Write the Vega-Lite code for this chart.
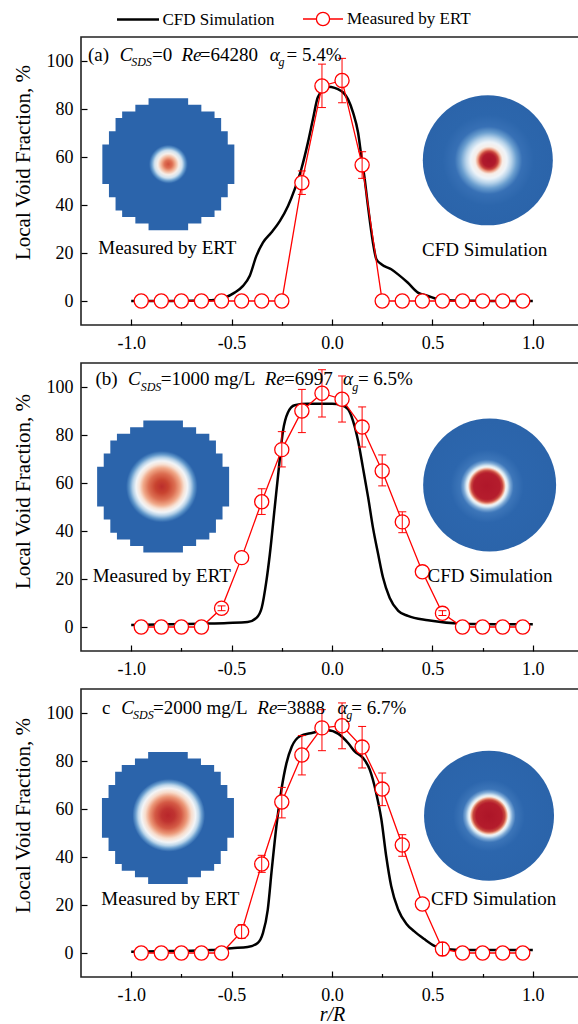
{
  "$schema": "https://vega.github.io/schema/vega-lite/v6.json",
  "padding": {"left": 11, "top": -3, "right": 0, "bottom": 0},
  "bounds": "flush",
  "spacing": 38,
  "config": {
    "font": "Liberation Serif",
    "view": {"stroke": "#222", "strokeWidth": 1.6},
    "axis": {"domain": false, "grid": false, "labelFontSize": 18, "labelColor": "black", "tickColor": "black", "tickWidth": 1.2, "titleColor": "black", "titleFontWeight": "normal", "labelFont": "Liberation Serif", "titleFont": "Liberation Serif"},
    "legend": {"labelFont": "Liberation Serif", "labelFontSize": 17, "labelColor": "black"}
  },
  "datasets": {
    "cfdA": [{"r":-1,"v":0},{"r":-0.8,"v":0},{"r":-0.6,"v":0.3},{"r":-0.534,"v":1.4},{"r":-0.485,"v":3.5},{"r":-0.443,"v":6.3},{"r":-0.41,"v":10.4},{"r":-0.377,"v":18.7},{"r":-0.344,"v":24.3},{"r":-0.302,"v":28.5},{"r":-0.26,"v":33.3},{"r":-0.219,"v":39.6},{"r":-0.186,"v":46.5},{"r":-0.153,"v":54.9},{"r":-0.12,"v":66},{"r":-0.095,"v":75.7},{"r":-0.07,"v":85},{"r":-0.02,"v":89.3},{"r":0.046,"v":87.5},{"r":0.08,"v":84},{"r":0.105,"v":78.5},{"r":0.13,"v":70.1},{"r":0.146,"v":60.4},{"r":0.163,"v":50.7},{"r":0.179,"v":39.6},{"r":0.204,"v":24.3},{"r":0.221,"v":17.4},{"r":0.246,"v":15.3},{"r":0.295,"v":13.2},{"r":0.329,"v":11.1},{"r":0.378,"v":7.6},{"r":0.428,"v":3.5},{"r":0.478,"v":2.1},{"r":0.528,"v":0.7},{"r":0.6,"v":0.2},{"r":0.8,"v":0},{"r":1,"v":0}],
    "ertA": [{"r":-0.95,"v":0},{"r":-0.85,"v":0},{"r":-0.75,"v":0},{"r":-0.65,"v":0},{"r":-0.55,"v":0},{"r":-0.45,"v":0},{"r":-0.35,"v":0},{"r":-0.25,"v":0},{"r":-0.15,"v":49.3,"lo":44.4,"hi":54.2},{"r":-0.05,"v":89.6,"lo":80.6,"hi":98.7},{"r":0.05,"v":91.9,"lo":82.6,"hi":101.1},{"r":0.15,"v":56.7,"lo":51.1,"hi":62.2},{"r":0.25,"v":0},{"r":0.35,"v":0},{"r":0.45,"v":0},{"r":0.55,"v":0},{"r":0.65,"v":0},{"r":0.75,"v":0},{"r":0.85,"v":0},{"r":0.95,"v":0}],
    "cfdB": [{"r":-1,"v":0.8},{"r":-0.8,"v":1.1},{"r":-0.65,"v":1.4},{"r":-0.52,"v":1.7},{"r":-0.42,"v":2.1},{"r":-0.375,"v":3.9},{"r":-0.35,"v":8},{"r":-0.327,"v":19},{"r":-0.31,"v":30},{"r":-0.285,"v":50},{"r":-0.265,"v":66},{"r":-0.244,"v":81.7},{"r":-0.22,"v":89.3},{"r":-0.186,"v":92.4},{"r":-0.12,"v":93},{"r":0,"v":93},{"r":0.046,"v":92.5},{"r":0.08,"v":90.7},{"r":0.105,"v":85.8},{"r":0.13,"v":77.5},{"r":0.154,"v":66.4},{"r":0.18,"v":54},{"r":0.204,"v":41.4},{"r":0.23,"v":30.3},{"r":0.254,"v":20.6},{"r":0.287,"v":12.2},{"r":0.33,"v":6.7},{"r":0.378,"v":4.6},{"r":0.478,"v":2.8},{"r":0.644,"v":1.4},{"r":1,"v":1.1}],
    "ertB": [{"r":-0.95,"v":0},{"r":-0.85,"v":0},{"r":-0.75,"v":0},{"r":-0.65,"v":0},{"r":-0.55,"v":7.8,"lo":6.8,"hi":8.8},{"r":-0.45,"v":28.9},{"r":-0.35,"v":52.2,"lo":46.9,"hi":57.6},{"r":-0.25,"v":73.9,"lo":66.7,"hi":81.4},{"r":-0.15,"v":90,"lo":81,"hi":99},{"r":-0.05,"v":97.4,"lo":87.5,"hi":107.2},{"r":0.05,"v":94.9,"lo":85.4,"hi":104.6},{"r":0.15,"v":83.3,"lo":75,"hi":91.7},{"r":0.25,"v":65,"lo":58.8,"hi":71.7},{"r":0.35,"v":43.8,"lo":39.3,"hi":48},{"r":0.45,"v":23},{"r":0.55,"v":5.7,"lo":4.8,"hi":6.8},{"r":0.65,"v":0},{"r":0.75,"v":0},{"r":0.85,"v":0},{"r":0.95,"v":0}],
    "cfdC": [{"r":-1,"v":0.5},{"r":-0.8,"v":0.8},{"r":-0.6,"v":1.2},{"r":-0.5,"v":2},{"r":-0.42,"v":2.5},{"r":-0.37,"v":4.2},{"r":-0.344,"v":8.3},{"r":-0.32,"v":18},{"r":-0.3,"v":34.7},{"r":-0.277,"v":52.8},{"r":-0.252,"v":68},{"r":-0.227,"v":79},{"r":-0.2,"v":86},{"r":-0.16,"v":90.3},{"r":-0.1,"v":91.7},{"r":-0.02,"v":92.8},{"r":0.03,"v":91.4},{"r":0.08,"v":87.5},{"r":0.113,"v":84},{"r":0.154,"v":81.3},{"r":0.188,"v":76.4},{"r":0.22,"v":66.7},{"r":0.246,"v":55.6},{"r":0.27,"v":40.3},{"r":0.295,"v":27.8},{"r":0.33,"v":18},{"r":0.37,"v":12.2},{"r":0.41,"v":9},{"r":0.46,"v":5.8},{"r":0.51,"v":3},{"r":0.56,"v":1.7},{"r":0.7,"v":1.2},{"r":1,"v":1.2}],
    "ertC": [{"r":-0.95,"v":0},{"r":-0.85,"v":0},{"r":-0.75,"v":0},{"r":-0.65,"v":0},{"r":-0.55,"v":0},{"r":-0.45,"v":8.9,"lo":6.1,"hi":11.8},{"r":-0.35,"v":37.1,"lo":33.6,"hi":40.7},{"r":-0.25,"v":62.9,"lo":56.3,"hi":69},{"r":-0.15,"v":82.5,"lo":74.2,"hi":90.6},{"r":-0.05,"v":93.8,"lo":84.3,"hi":101.4},{"r":0.05,"v":94.7,"lo":85.1,"hi":104.2},{"r":0.15,"v":85.8,"lo":77.1,"hi":94.4},{"r":0.25,"v":68.3,"lo":61.4,"hi":75},{"r":0.35,"v":45,"lo":40.3,"hi":49.3},{"r":0.45,"v":20.4},{"r":0.55,"v":1.7,"lo":-1.1,"hi":4.4},{"r":0.65,"v":0},{"r":0.75,"v":0},{"r":0.85,"v":0},{"r":0.95,"v":0}]
  },
  "vconcat": [
    {
      "width": 502, "height": 288,
      "layer": [
        {
          "data": {"values": [{}]},
          "layer": [
            {"mark": {"type": "point", "shape": "M-0.3,-1H0.3V-0.9H0.5V-0.8H0.7V-0.7H0.8V-0.5H0.9V-0.3H1V0.3H0.9V0.5H0.8V0.7H0.7V0.8H0.5V0.9H0.3V1H-0.3V0.9H-0.5V0.8H-0.7V0.7H-0.8V0.5H-0.9V0.3H-1V-0.3H-0.9V-0.5H-0.8V-0.7H-0.7V-0.8H-0.5V-0.9H-0.3Z", "size": 17424, "filled": true, "opacity": 1, "strokeWidth": 0,
              "fill": {"gradient": "radial", "x1": 0.5, "y1": 0.5, "r1": 0, "x2": 0.5, "y2": 0.5, "r2": 0.5, "stops": [{"offset": 0, "color": "#cf4f3a"}, {"offset": 0.06, "color": "#de6f53"}, {"offset": 0.11, "color": "#f2b497"}, {"offset": 0.16, "color": "#f7efe9"}, {"offset": 0.21, "color": "#cfe2f0"}, {"offset": 0.25, "color": "#6a9fcf"}, {"offset": 0.29, "color": "#2b64ab"}, {"offset": 1, "color": "#2b64ab"}]}},
             "encoding": {
               "x": {"datum": -0.815, "type": "quantitative", "scale": {"domain": [-1.25, 1.25], "nice": false, "zero": false},
                     "axis": {"title": null, "values": [-1,-0.75,-0.5,-0.25,0,0.25,0.5,0.75,1], "labelExpr": "datum.value % 0.5 === 0 ? (datum.value < 0 ? '-' : '') + format(abs(datum.value), '.1f') : ''", "tickSize": {"condition": {"test": "datum.value % 0.5 === 0", "value": -6}, "value": -3.5}, "labelPadding": 15, "labelFlush": false, "labelOverlap": false}},
               "y": {"datum": 57, "type": "quantitative", "scale": {"domain": [-10, 110], "nice": false, "zero": false},
                     "axis": {"title": "Local Void Fraction, %", "values": [0,10,20,30,40,50,60,70,80,90,100], "labelExpr": "datum.value % 20 === 0 ? datum.label : ''", "tickSize": {"condition": {"test": "datum.value % 20 === 0", "value": -6}, "value": -3.5}, "labelPadding": 14, "titleFontSize": 21, "titleX": -57.5, "titleY": 125, "titleAngle": -90, "titleBaseline": "middle", "titleAlign": "center", "labelOverlap": false, "labelFlush": false}}
             }},
            {"mark": {"type": "point", "shape": "circle", "size": 16900, "filled": true, "opacity": 1, "strokeWidth": 0,
              "fill": {"gradient": "radial", "x1": 0.51, "y1": 0.5, "r1": 0, "x2": 0.5, "y2": 0.5, "r2": 0.5, "stops": [{"offset": 0, "color": "#a8132a"}, {"offset": 0.1, "color": "#b01a2c"}, {"offset": 0.14, "color": "#c9443d"}, {"offset": 0.17, "color": "#ec9c81"}, {"offset": 0.21, "color": "#f8ede6"}, {"offset": 0.28, "color": "#eef4f9"}, {"offset": 0.35, "color": "#b7d3ea"}, {"offset": 0.43, "color": "#6a9ecf"}, {"offset": 0.52, "color": "#3770b5"}, {"offset": 0.7, "color": "#2c66ac"}, {"offset": 1, "color": "#2b64aa"}]}},
             "encoding": {"x": {"datum": 0.776, "type": "quantitative"}, "y": {"datum": 58.6, "type": "quantitative"}}}
          ]
        },
        {"data": {"name": "cfdA"}, "mark": {"type": "line", "interpolate": "monotone", "strokeWidth": 2.5},
         "encoding": {"x": {"field": "r", "type": "quantitative"}, "y": {"field": "v", "type": "quantitative"},
           "color": {"datum": "CFD Simulation", "type": "nominal", "scale": {"domain": ["CFD Simulation"], "range": ["black"]},
             "legend": {"title": null, "orient": "none", "legendX": 34.5, "legendY": -40, "padding": 0, "symbolSize": 1764, "symbolStrokeWidth": 2.5, "symbolType": "stroke", "labelOffset": 2, "labelFont": "Liberation Serif", "labelFontSize": 17, "labelColor": "black"}}}},
        {"data": {"values": []}, "mark": {"type": "point", "filled": false},
         "encoding": {"shape": {"datum": "Measured by ERT", "type": "nominal", "scale": {"domain": ["Measured by ERT"], "range": ["M-1,0H-0.33M0.33,0H1M0.33,0A0.33,0.33,0,1,1,-0.33,0A0.33,0.33,0,1,1,0.33,0Z"]},
           "legend": {"title": null, "orient": "none", "legendX": 221, "legendY": -39, "padding": 0, "symbolSize": 1600, "symbolStrokeColor": "red", "symbolFillColor": "white", "symbolStrokeWidth": 1.3, "symbolOpacity": 1, "labelOffset": 3, "labelFont": "Liberation Serif", "labelFontSize": 17, "labelColor": "black"}}}},
        {"data": {"name": "ertA"}, "mark": {"type": "line", "strokeWidth": 1.3, "color": "red"},
         "encoding": {"x": {"field": "r", "type": "quantitative"}, "y": {"field": "v", "type": "quantitative"}}},
        {"data": {"name": "ertA"}, "mark": {"type": "point", "shape": "circle", "size": 200, "filled": true, "fill": "white", "stroke": "red", "strokeWidth": 1.3, "opacity": 1},
         "encoding": {"x": {"field": "r", "type": "quantitative"}, "y": {"field": "v", "type": "quantitative"}}},
        {"data": {"name": "ertA"}, "transform": [{"filter": "isValid(datum.lo)"}], "mark": {"type": "rule", "color": "red", "strokeWidth": 1},
         "encoding": {"x": {"field": "r", "type": "quantitative"}, "y": {"field": "lo", "type": "quantitative"}, "y2": {"field": "hi"}}},
        {"data": {"name": "ertA"}, "transform": [{"filter": "isValid(datum.lo)"}], "mark": {"type": "tick", "orient": "horizontal", "size": 8, "thickness": 1, "color": "red", "opacity": 1},
         "encoding": {"x": {"field": "r", "type": "quantitative"}, "y": {"field": "lo", "type": "quantitative"}}},
        {"data": {"name": "ertA"}, "transform": [{"filter": "isValid(datum.lo)"}], "mark": {"type": "tick", "orient": "horizontal", "size": 8, "thickness": 1, "color": "red", "opacity": 1},
         "encoding": {"x": {"field": "r", "type": "quantitative"}, "y": {"field": "hi", "type": "quantitative"}}},
        {
          "data": {"values": [{}]},
          "layer": [
            {"mark": {"type": "text", "text": "Measured by ERT", "align": "center", "baseline": "alphabetic", "fontSize": 19}, "encoding": {"x": {"datum": -0.82, "type": "quantitative"}, "y": {"datum": 19.5, "type": "quantitative"}}},
            {"mark": {"type": "text", "text": "CFD Simulation", "align": "center", "baseline": "alphabetic", "fontSize": 19}, "encoding": {"x": {"datum": 0.76, "type": "quantitative"}, "y": {"datum": 18.8, "type": "quantitative"}}},
            {"mark": {"type": "text", "text": "(a)", "align": "left", "baseline": "alphabetic", "fontSize": 19}, "encoding": {"x": {"datum": -1.215, "type": "quantitative"}, "y": {"datum": 100, "type": "quantitative"}}},
            {"mark": {"type": "text", "text": "C", "align": "left", "baseline": "alphabetic", "fontSize": 19, "fontStyle": "italic"}, "encoding": {"x": {"datum": -1.057, "type": "quantitative"}, "y": {"datum": 100, "type": "quantitative"}}},
            {"mark": {"type": "text", "text": "SDS", "align": "left", "baseline": "alphabetic", "fontSize": 12, "fontStyle": "italic"}, "encoding": {"x": {"datum": -1.0, "type": "quantitative"}, "y": {"datum": 97.9, "type": "quantitative"}}},
            {"mark": {"type": "text", "text": "=0", "align": "left", "baseline": "alphabetic", "fontSize": 19}, "encoding": {"x": {"datum": -0.896, "type": "quantitative"}, "y": {"datum": 100, "type": "quantitative"}}},
            {"mark": {"type": "text", "text": "Re", "align": "left", "baseline": "alphabetic", "fontSize": 19, "fontStyle": "italic"}, "encoding": {"x": {"datum": -0.75, "type": "quantitative"}, "y": {"datum": 100, "type": "quantitative"}}},
            {"mark": {"type": "text", "text": "=64280", "align": "left", "baseline": "alphabetic", "fontSize": 19}, "encoding": {"x": {"datum": -0.659, "type": "quantitative"}, "y": {"datum": 100, "type": "quantitative"}}},
            {"mark": {"type": "text", "text": "α", "align": "left", "baseline": "alphabetic", "fontSize": 19, "fontStyle": "italic"}, "encoding": {"x": {"datum": -0.31, "type": "quantitative"}, "y": {"datum": 100, "type": "quantitative"}}},
            {"mark": {"type": "text", "text": "g", "align": "left", "baseline": "alphabetic", "fontSize": 12, "fontStyle": "italic"}, "encoding": {"x": {"datum": -0.266, "type": "quantitative"}, "y": {"datum": 97.9, "type": "quantitative"}}},
            {"mark": {"type": "text", "text": "= 5.4%", "align": "left", "baseline": "alphabetic", "fontSize": 19}, "encoding": {"x": {"datum": -0.227, "type": "quantitative"}, "y": {"datum": 100, "type": "quantitative"}}}
          ]
        }
      ]
    },
    {
      "width": 502, "height": 288,
      "layer": [
        {
          "data": {"values": [{}]},
          "layer": [
            {"mark": {"type": "point", "shape": "M-0.3,-1H0.3V-0.9H0.5V-0.8H0.7V-0.7H0.8V-0.5H0.9V-0.3H1V0.3H0.9V0.5H0.8V0.7H0.7V0.8H0.5V0.9H0.3V1H-0.3V0.9H-0.5V0.8H-0.7V0.7H-0.8V0.5H-0.9V0.3H-1V-0.3H-0.9V-0.5H-0.8V-0.7H-0.7V-0.8H-0.5V-0.9H-0.3Z", "size": 17424, "filled": true, "opacity": 1, "strokeWidth": 0,
              "fill": {"gradient": "radial", "x1": 0.49, "y1": 0.5, "r1": 0, "x2": 0.49, "y2": 0.5, "r2": 0.5, "stops": [{"offset": 0, "color": "#bb2d2c"}, {"offset": 0.1, "color": "#c8432f"}, {"offset": 0.2, "color": "#dc6f52"}, {"offset": 0.28, "color": "#f0a888"}, {"offset": 0.34, "color": "#f8e3d6"}, {"offset": 0.39, "color": "#f2f5f8"}, {"offset": 0.44, "color": "#b5d1e8"}, {"offset": 0.49, "color": "#5e95c9"}, {"offset": 0.54, "color": "#2b64ab"}, {"offset": 1, "color": "#2b64ab"}]}},
             "encoding": {
               "x": {"datum": -0.841, "type": "quantitative", "scale": {"domain": [-1.25, 1.25], "nice": false, "zero": false},
                     "axis": {"title": null, "values": [-1,-0.75,-0.5,-0.25,0,0.25,0.5,0.75,1], "labelExpr": "datum.value % 0.5 === 0 ? (datum.value < 0 ? '-' : '') + format(abs(datum.value), '.1f') : ''", "tickSize": {"condition": {"test": "datum.value % 0.5 === 0", "value": -6}, "value": -3.5}, "labelPadding": 15, "labelFlush": false, "labelOverlap": false}},
               "y": {"datum": 58.5, "type": "quantitative", "scale": {"domain": [-10, 110], "nice": false, "zero": false},
                     "axis": {"title": "Local Void Fraction, %", "values": [0,10,20,30,40,50,60,70,80,90,100], "labelExpr": "datum.value % 20 === 0 ? datum.label : ''", "tickSize": {"condition": {"test": "datum.value % 20 === 0", "value": -6}, "value": -3.5}, "labelPadding": 14, "titleFontSize": 21, "titleX": -57.5, "titleY": 128, "titleAngle": -90, "titleBaseline": "middle", "titleAlign": "center", "labelOverlap": false, "labelFlush": false}}
             }},
            {"mark": {"type": "point", "shape": "circle", "size": 17689, "filled": true, "opacity": 1, "strokeWidth": 0,
              "fill": {"gradient": "radial", "x1": 0.48, "y1": 0.51, "r1": 0, "x2": 0.48, "y2": 0.51, "r2": 0.5, "stops": [{"offset": 0, "color": "#b0172a"}, {"offset": 0.2, "color": "#b51d2d"}, {"offset": 0.235, "color": "#c94840"}, {"offset": 0.26, "color": "#ee9f85"}, {"offset": 0.285, "color": "#f7f5f3"}, {"offset": 0.31, "color": "#d9e9f3"}, {"offset": 0.35, "color": "#7eaad6"}, {"offset": 0.4, "color": "#3d76b9"}, {"offset": 0.55, "color": "#2c66ad"}, {"offset": 1, "color": "#2b64aa"}]}},
             "encoding": {"x": {"datum": 0.785, "type": "quantitative"}, "y": {"datum": 59.2, "type": "quantitative"}}}
          ]
        },
        {"data": {"name": "cfdB"}, "mark": {"type": "line", "interpolate": "monotone", "strokeWidth": 2.5, "color": "black"},
         "encoding": {"x": {"field": "r", "type": "quantitative"}, "y": {"field": "v", "type": "quantitative"}}},
        {"data": {"name": "ertB"}, "mark": {"type": "line", "strokeWidth": 1.3, "color": "red"},
         "encoding": {"x": {"field": "r", "type": "quantitative"}, "y": {"field": "v", "type": "quantitative"}}},
        {"data": {"name": "ertB"}, "mark": {"type": "point", "shape": "circle", "size": 200, "filled": true, "fill": "white", "stroke": "red", "strokeWidth": 1.3, "opacity": 1},
         "encoding": {"x": {"field": "r", "type": "quantitative"}, "y": {"field": "v", "type": "quantitative"}}},
        {"data": {"name": "ertB"}, "transform": [{"filter": "isValid(datum.lo)"}], "mark": {"type": "rule", "color": "red", "strokeWidth": 1},
         "encoding": {"x": {"field": "r", "type": "quantitative"}, "y": {"field": "lo", "type": "quantitative"}, "y2": {"field": "hi"}}},
        {"data": {"name": "ertB"}, "transform": [{"filter": "isValid(datum.lo)"}], "mark": {"type": "tick", "orient": "horizontal", "size": 8, "thickness": 1, "color": "red", "opacity": 1},
         "encoding": {"x": {"field": "r", "type": "quantitative"}, "y": {"field": "lo", "type": "quantitative"}}},
        {"data": {"name": "ertB"}, "transform": [{"filter": "isValid(datum.lo)"}], "mark": {"type": "tick", "orient": "horizontal", "size": 8, "thickness": 1, "color": "red", "opacity": 1},
         "encoding": {"x": {"field": "r", "type": "quantitative"}, "y": {"field": "hi", "type": "quantitative"}}},
        {
          "data": {"values": [{}]},
          "layer": [
            {"mark": {"type": "text", "text": "Measured by ERT", "align": "center", "baseline": "alphabetic", "fontSize": 19}, "encoding": {"x": {"datum": -0.848, "type": "quantitative"}, "y": {"datum": 18.9, "type": "quantitative"}}},
            {"mark": {"type": "text", "text": "CFD Simulation", "align": "center", "baseline": "alphabetic", "fontSize": 19}, "encoding": {"x": {"datum": 0.787, "type": "quantitative"}, "y": {"datum": 18.9, "type": "quantitative"}}},
            {"mark": {"type": "text", "text": "(b)", "align": "left", "baseline": "alphabetic", "fontSize": 19}, "encoding": {"x": {"datum": -1.178, "type": "quantitative"}, "y": {"datum": 100.8, "type": "quantitative"}}},
            {"mark": {"type": "text", "text": "C", "align": "left", "baseline": "alphabetic", "fontSize": 19, "fontStyle": "italic"}, "encoding": {"x": {"datum": -1.016, "type": "quantitative"}, "y": {"datum": 100.8, "type": "quantitative"}}},
            {"mark": {"type": "text", "text": "SDS", "align": "left", "baseline": "alphabetic", "fontSize": 12, "fontStyle": "italic"}, "encoding": {"x": {"datum": -0.953, "type": "quantitative"}, "y": {"datum": 98.5, "type": "quantitative"}}},
            {"mark": {"type": "text", "text": "=1000 mg/L", "align": "left", "baseline": "alphabetic", "fontSize": 19}, "encoding": {"x": {"datum": -0.853, "type": "quantitative"}, "y": {"datum": 100.8, "type": "quantitative"}}},
            {"mark": {"type": "text", "text": "Re", "align": "left", "baseline": "alphabetic", "fontSize": 19, "fontStyle": "italic"}, "encoding": {"x": {"datum": -0.335, "type": "quantitative"}, "y": {"datum": 100.8, "type": "quantitative"}}},
            {"mark": {"type": "text", "text": "=6997", "align": "left", "baseline": "alphabetic", "fontSize": 19}, "encoding": {"x": {"datum": -0.239, "type": "quantitative"}, "y": {"datum": 100.8, "type": "quantitative"}}},
            {"mark": {"type": "text", "text": "α", "align": "left", "baseline": "alphabetic", "fontSize": 19, "fontStyle": "italic"}, "encoding": {"x": {"datum": 0.055, "type": "quantitative"}, "y": {"datum": 100.8, "type": "quantitative"}}},
            {"mark": {"type": "text", "text": "g", "align": "left", "baseline": "alphabetic", "fontSize": 12, "fontStyle": "italic"}, "encoding": {"x": {"datum": 0.101, "type": "quantitative"}, "y": {"datum": 98.5, "type": "quantitative"}}},
            {"mark": {"type": "text", "text": "= 6.5%", "align": "left", "baseline": "alphabetic", "fontSize": 19}, "encoding": {"x": {"datum": 0.129, "type": "quantitative"}, "y": {"datum": 100.8, "type": "quantitative"}}}
          ]
        }
      ]
    },
    {
      "width": 502, "height": 288,
      "layer": [
        {
          "data": {"values": [{}]},
          "layer": [
            {"mark": {"type": "point", "shape": "M-0.3,-1H0.3V-0.9H0.5V-0.8H0.7V-0.7H0.8V-0.5H0.9V-0.3H1V0.3H0.9V0.5H0.8V0.7H0.7V0.8H0.5V0.9H0.3V1H-0.3V0.9H-0.5V0.8H-0.7V0.7H-0.8V0.5H-0.9V0.3H-1V-0.3H-0.9V-0.5H-0.8V-0.7H-0.7V-0.8H-0.5V-0.9H-0.3Z", "size": 17424, "filled": true, "opacity": 1, "strokeWidth": 0,
              "fill": {"gradient": "radial", "x1": 0.5, "y1": 0.48, "r1": 0, "x2": 0.51, "y2": 0.48, "r2": 0.5, "stops": [{"offset": 0, "color": "#b8262b"}, {"offset": 0.1, "color": "#bf3330"}, {"offset": 0.2, "color": "#d45a45"}, {"offset": 0.28, "color": "#eb9676"}, {"offset": 0.35, "color": "#f8dccb"}, {"offset": 0.41, "color": "#f3f5f7"}, {"offset": 0.46, "color": "#bcd6ea"}, {"offset": 0.5, "color": "#6b9fcf"}, {"offset": 0.55, "color": "#2b64ab"}, {"offset": 1, "color": "#2b64ab"}]}},
             "encoding": {
               "x": {"datum": -0.817, "type": "quantitative", "scale": {"domain": [-1.25, 1.25], "nice": false, "zero": false},
                     "axis": {"title": "r/R", "titleFontStyle": "italic", "titleFontSize": 20, "titlePadding": -2, "values": [-1,-0.75,-0.5,-0.25,0,0.25,0.5,0.75,1], "labelExpr": "datum.value % 0.5 === 0 ? (datum.value < 0 ? '-' : '') + format(abs(datum.value), '.1f') : ''", "tickSize": {"condition": {"test": "datum.value % 0.5 === 0", "value": -6}, "value": -3.5}, "labelPadding": 15, "labelFlush": false, "labelOverlap": false}},
               "y": {"datum": 56.3, "type": "quantitative", "scale": {"domain": [-10, 110], "nice": false, "zero": false},
                     "axis": {"title": "Local Void Fraction, %", "values": [0,10,20,30,40,50,60,70,80,90,100], "labelExpr": "datum.value % 20 === 0 ? datum.label : ''", "tickSize": {"condition": {"test": "datum.value % 20 === 0", "value": -6}, "value": -3.5}, "labelPadding": 14, "titleFontSize": 21, "titleX": -57.5, "titleY": 126, "titleAngle": -90, "titleBaseline": "middle", "titleAlign": "center", "labelOverlap": false, "labelFlush": false}}
             }},
            {"mark": {"type": "point", "shape": "circle", "size": 16900, "filled": true, "opacity": 1, "strokeWidth": 0,
              "fill": {"gradient": "radial", "x1": 0.5, "y1": 0.5, "r1": 0, "x2": 0.5, "y2": 0.5, "r2": 0.5, "stops": [{"offset": 0, "color": "#ad1528"}, {"offset": 0.2, "color": "#b41c2c"}, {"offset": 0.245, "color": "#c84a3f"}, {"offset": 0.27, "color": "#eca184"}, {"offset": 0.295, "color": "#f7f4f1"}, {"offset": 0.32, "color": "#d7e8f3"}, {"offset": 0.36, "color": "#7eaad6"}, {"offset": 0.41, "color": "#3c75b8"}, {"offset": 0.55, "color": "#2c66ad"}, {"offset": 1, "color": "#2b64aa"}]}},
             "encoding": {"x": {"datum": 0.782, "type": "quantitative"}, "y": {"datum": 57.2, "type": "quantitative"}}}
          ]
        },
        {"data": {"name": "cfdC"}, "mark": {"type": "line", "interpolate": "monotone", "strokeWidth": 2.5, "color": "black"},
         "encoding": {"x": {"field": "r", "type": "quantitative"}, "y": {"field": "v", "type": "quantitative"}}},
        {"data": {"name": "ertC"}, "mark": {"type": "line", "strokeWidth": 1.3, "color": "red"},
         "encoding": {"x": {"field": "r", "type": "quantitative"}, "y": {"field": "v", "type": "quantitative"}}},
        {"data": {"name": "ertC"}, "mark": {"type": "point", "shape": "circle", "size": 200, "filled": true, "fill": "white", "stroke": "red", "strokeWidth": 1.3, "opacity": 1},
         "encoding": {"x": {"field": "r", "type": "quantitative"}, "y": {"field": "v", "type": "quantitative"}}},
        {"data": {"name": "ertC"}, "transform": [{"filter": "isValid(datum.lo)"}], "mark": {"type": "rule", "color": "red", "strokeWidth": 1},
         "encoding": {"x": {"field": "r", "type": "quantitative"}, "y": {"field": "lo", "type": "quantitative"}, "y2": {"field": "hi"}}},
        {"data": {"name": "ertC"}, "transform": [{"filter": "isValid(datum.lo)"}], "mark": {"type": "tick", "orient": "horizontal", "size": 8, "thickness": 1, "color": "red", "opacity": 1},
         "encoding": {"x": {"field": "r", "type": "quantitative"}, "y": {"field": "lo", "type": "quantitative"}}},
        {"data": {"name": "ertC"}, "transform": [{"filter": "isValid(datum.lo)"}], "mark": {"type": "tick", "orient": "horizontal", "size": 8, "thickness": 1, "color": "red", "opacity": 1},
         "encoding": {"x": {"field": "r", "type": "quantitative"}, "y": {"field": "hi", "type": "quantitative"}}},
        {
          "data": {"values": [{}]},
          "layer": [
            {"mark": {"type": "text", "text": "Measured by ERT", "align": "center", "baseline": "alphabetic", "fontSize": 19}, "encoding": {"x": {"datum": -0.805, "type": "quantitative"}, "y": {"datum": 19.9, "type": "quantitative"}}},
            {"mark": {"type": "text", "text": "CFD Simulation", "align": "center", "baseline": "alphabetic", "fontSize": 19}, "encoding": {"x": {"datum": 0.805, "type": "quantitative"}, "y": {"datum": 19.9, "type": "quantitative"}}},
            {"mark": {"type": "text", "text": "c", "align": "left", "baseline": "alphabetic", "fontSize": 19}, "encoding": {"x": {"datum": -1.145, "type": "quantitative"}, "y": {"datum": 99.6, "type": "quantitative"}}},
            {"mark": {"type": "text", "text": "C", "align": "left", "baseline": "alphabetic", "fontSize": 19, "fontStyle": "italic"}, "encoding": {"x": {"datum": -1.049, "type": "quantitative"}, "y": {"datum": 99.6, "type": "quantitative"}}},
            {"mark": {"type": "text", "text": "SDS", "align": "left", "baseline": "alphabetic", "fontSize": 12, "fontStyle": "italic"}, "encoding": {"x": {"datum": -0.991, "type": "quantitative"}, "y": {"datum": 97.3, "type": "quantitative"}}},
            {"mark": {"type": "text", "text": "=2000 mg/L", "align": "left", "baseline": "alphabetic", "fontSize": 19}, "encoding": {"x": {"datum": -0.891, "type": "quantitative"}, "y": {"datum": 99.6, "type": "quantitative"}}},
            {"mark": {"type": "text", "text": "Re", "align": "left", "baseline": "alphabetic", "fontSize": 19, "fontStyle": "italic"}, "encoding": {"x": {"datum": -0.372, "type": "quantitative"}, "y": {"datum": 99.6, "type": "quantitative"}}},
            {"mark": {"type": "text", "text": "=3888", "align": "left", "baseline": "alphabetic", "fontSize": 19}, "encoding": {"x": {"datum": -0.277, "type": "quantitative"}, "y": {"datum": 99.6, "type": "quantitative"}}},
            {"mark": {"type": "text", "text": "α", "align": "left", "baseline": "alphabetic", "fontSize": 19, "fontStyle": "italic"}, "encoding": {"x": {"datum": 0.027, "type": "quantitative"}, "y": {"datum": 99.6, "type": "quantitative"}}},
            {"mark": {"type": "text", "text": "g", "align": "left", "baseline": "alphabetic", "fontSize": 12, "fontStyle": "italic"}, "encoding": {"x": {"datum": 0.071, "type": "quantitative"}, "y": {"datum": 97.3, "type": "quantitative"}}},
            {"mark": {"type": "text", "text": "= 6.7%", "align": "left", "baseline": "alphabetic", "fontSize": 19}, "encoding": {"x": {"datum": 0.096, "type": "quantitative"}, "y": {"datum": 99.6, "type": "quantitative"}}}
          ]
        }
      ]
    }
  ]
}
